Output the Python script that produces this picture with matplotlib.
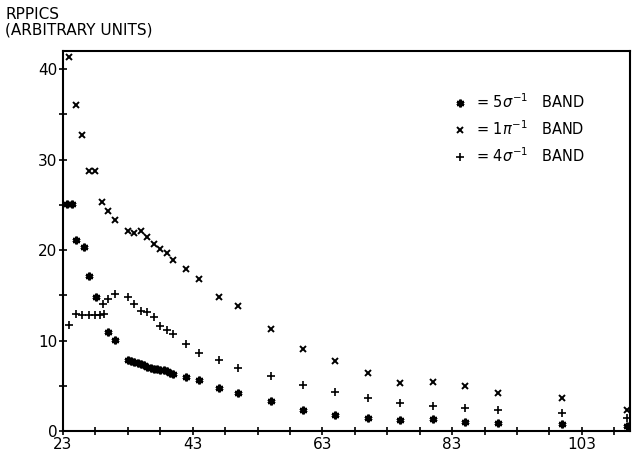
import numpy as np
import matplotlib.pyplot as plt
from matplotlib.ticker import MultipleLocator, FixedLocator

# 5 sigma^-1 band (asterisks)
x_s5 = [23.6, 24.4, 25.0, 26.2, 27.0, 28.1, 29.9, 31.0,
        33.0, 33.5, 34.0, 34.5, 35.0, 35.5, 36.0, 36.5, 37.0, 37.5,
        38.0, 38.5, 39.0, 39.5, 40.0,
        42.0, 44.0, 47.0, 50.0, 55.0, 60.0, 65.0, 70.0, 75.0, 80.0,
        85.0, 90.0, 100.0, 110.0]
y_s5 = [25.1, 25.1, 21.1, 20.4, 17.1, 14.8, 10.9, 10.1,
        7.9, 7.7, 7.6, 7.5, 7.45, 7.3, 7.1, 6.95, 6.85, 6.8,
        6.7, 6.7, 6.6, 6.45, 6.35,
        6.0, 5.6, 4.8, 4.2, 3.35, 2.3, 1.77, 1.47, 1.2, 1.3,
        1.0, 0.9, 0.8, 0.5]

# 1 pi^-1 band (crosses)
x_p1 = [24, 25, 26, 27, 28, 29, 30, 31, 33, 34, 35, 36, 37, 38, 39, 40,
        42, 44, 47, 50, 55, 60, 65, 70, 75, 80, 85, 90, 100, 110]
y_p1 = [41.4, 36.1, 32.7, 28.8, 28.8, 25.3, 24.3, 23.3, 22.1, 21.9, 22.1,
        21.5, 20.7, 20.1, 19.7, 18.9, 17.9, 16.8, 14.8, 13.8, 11.3, 9.1,
        7.7, 6.4, 5.3, 5.4, 5.0, 4.2, 3.7, 2.3]

# 4 sigma^-1 band (plus)
x_s4 = [24, 25, 26, 27, 28, 28.7, 29.4, 29.1, 30, 31, 33, 34, 35, 36, 37,
        38, 39, 40, 42, 44, 47, 50, 55, 60, 65, 70, 75, 80, 85, 90, 100, 110]
y_s4 = [11.7, 12.9, 12.8, 12.8, 12.8, 12.8, 12.9, 14.0, 14.6, 15.2, 14.8,
        14.0, 13.3, 13.2, 12.6, 11.6, 11.2, 10.7, 9.65, 8.65, 7.8, 7.0, 6.1,
        5.1, 4.35, 3.7, 3.05, 2.8, 2.5, 2.3, 2.0, 1.4]

xticks_major = [23, 43, 63, 83, 103]

fig = plt.figure(figsize=(6.33, 4.53), dpi=100)
ax = fig.add_axes([0.0995, 0.0486, 0.8955, 0.8384])

ax.plot(x_s5, y_s5, linestyle='None', marker=(6, 2, 0), markersize=5.5,
        markeredgewidth=1.8, color='black', label=r'= 5$\sigma^{-1}$   BAND')
ax.plot(x_p1, y_p1, linestyle='None', marker='x', markersize=4.5,
        markeredgewidth=1.4, color='black', label=r'= 1$\pi^{-1}$   BAND')
ax.plot(x_s4, y_s4, linestyle='None', marker='+', markersize=6,
        markeredgewidth=1.2, color='black', label=r'= 4$\sigma^{-1}$   BAND')

ax.set_xlim(23, 110.4)
ax.set_ylim(0, 42)
ax.xaxis.set_major_locator(FixedLocator(xticks_major))
ax.xaxis.set_minor_locator(FixedLocator(np.arange(23, 111, 5)))
ax.yaxis.set_major_locator(MultipleLocator(10))
ax.yaxis.set_minor_locator(MultipleLocator(5))
ax.tick_params(which='both', direction='inout', length=6, width=1.2,
               labelsize=11, top=False, right=False)
ax.tick_params(axis='x', pad=1)
ax.tick_params(axis='y', pad=1)
for s in ax.spines.values():
    s.set_linewidth(1.5)

leg = ax.legend(loc='upper left', bbox_to_anchor=(0.667, 0.925), frameon=False,
                fontsize=10.5, handlelength=0.8, handletextpad=0.7,
                labelspacing=0.55)

fig.text(0.008, 0.985, 'RPPICS\n(ARBITRARY UNITS)', ha='left', va='top',
         fontsize=11, linespacing=1.05)

plt.savefig('out.png', dpi=100)
